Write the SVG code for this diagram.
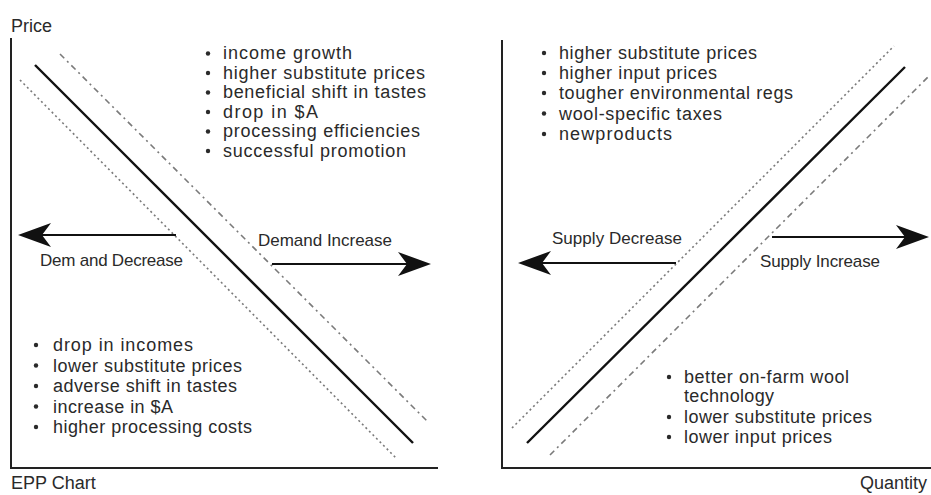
<svg xmlns="http://www.w3.org/2000/svg" width="931" height="495" viewBox="0 0 931 495">
  <style>
    text { font-family: "Liberation Sans", Arial, sans-serif; font-size: 18px; fill: #2a2a2a; }
    .label { font-size: 17px; }
    .axis { stroke: #222; stroke-width: 2; fill: none; }
    .curve { stroke: #111; stroke-width: 2.4; fill: none; }
    .dotted { stroke: #7a7a7a; stroke-width: 1.6; stroke-dasharray: 2 3; fill: none; }
    .dashdot { stroke: #7a7a7a; stroke-width: 1.6; stroke-dasharray: 6 4 2 4; fill: none; }
    .shift { stroke: #111; stroke-width: 2.2; fill: none; marker-end: url(#head); }
    .bullet { fill: #2a2a2a; }
  </style>
  <defs>
    <marker id="head" viewBox="-19 -13 35 26" refX="0" refY="0" markerWidth="35" markerHeight="26" markerUnits="userSpaceOnUse" orient="auto">
      <path d="M15,0 L-18,-12 L-9,0 L-18,12 Z" fill="#111"/>
    </marker>
  </defs>

  <!-- Demand panel -->
  <g id="demand-axes">
    <text x="11" y="32">Price</text>
    <path class="axis" d="M11,38 V468 H438"/>
    <text x="11" y="489" font-size="17">EPP Chart</text>
  </g>
  <g id="demand-curves">
    <line class="dotted" x1="20" y1="80" x2="396" y2="458"/>
    <line class="curve" x1="35" y1="65" x2="413" y2="443"/>
    <line class="dashdot" x1="60" y1="54" x2="428" y2="422"/>
  </g>
  <g id="demand-increase-factors">
    <circle class="bullet" cx="208" cy="53.5" r="2.2"/>
    <circle class="bullet" cx="208" cy="73" r="2.2"/>
    <circle class="bullet" cx="208" cy="92.5" r="2.2"/>
    <circle class="bullet" cx="208" cy="112" r="2.2"/>
    <circle class="bullet" cx="208" cy="131.5" r="2.2"/>
    <circle class="bullet" cx="208" cy="151" r="2.2"/>
    <text x="223" y="59" textLength="129" lengthAdjust="spacing">income growth</text>
    <text x="223" y="78.5" textLength="202" lengthAdjust="spacing">higher substitute prices</text>
    <text x="223" y="98" textLength="203" lengthAdjust="spacing">beneficial shift in tastes</text>
    <text x="223" y="117.5" textLength="95" lengthAdjust="spacing">drop in $A</text>
    <text x="223" y="137" textLength="197" lengthAdjust="spacing">processing efficiencies</text>
    <text x="223" y="156.5" textLength="183" lengthAdjust="spacing">successful promotion</text>
  </g>
  <g id="demand-decrease-factors">
    <circle class="bullet" cx="36" cy="345" r="2.2"/>
    <circle class="bullet" cx="36" cy="365.5" r="2.2"/>
    <circle class="bullet" cx="36" cy="386" r="2.2"/>
    <circle class="bullet" cx="36" cy="406.5" r="2.2"/>
    <circle class="bullet" cx="36" cy="427" r="2.2"/>
    <text x="53" y="351" textLength="140" lengthAdjust="spacing">drop in  incomes</text>
    <text x="53" y="371.5" textLength="189" lengthAdjust="spacing">lower substitute prices</text>
    <text x="53" y="392" textLength="184" lengthAdjust="spacing">adverse shift in tastes</text>
    <text x="53" y="412.5" textLength="120" lengthAdjust="spacing">increase in $A</text>
    <text x="53" y="433" textLength="199" lengthAdjust="spacing">higher processing costs</text>
  </g>
  <g id="demand-decrease">
    <text class="label" x="40" y="266" textLength="143" lengthAdjust="spacing">Dem and Decrease</text>
  </g>
  <g id="demand-increase">
    <text class="label" x="258" y="246" textLength="134" lengthAdjust="spacing">Demand Increase</text>
  </g>

  <!-- Supply panel -->
  <g id="supply-axes">
    <path class="axis" d="M502,40 V468 H931"/>
    <text x="927" y="489" text-anchor="end" font-size="17">Quantity</text>
  </g>
  <g id="supply-curves">
    <line class="dotted" x1="512" y1="428" x2="894" y2="46"/>
    <line class="curve" x1="527" y1="443" x2="905" y2="67"/>
    <line class="dashdot" x1="550" y1="455" x2="929" y2="76"/>
  </g>
  <g id="supply-decrease-factors">
    <circle class="bullet" cx="544" cy="53" r="2.2"/>
    <circle class="bullet" cx="544" cy="73" r="2.2"/>
    <circle class="bullet" cx="544" cy="93" r="2.2"/>
    <circle class="bullet" cx="544" cy="113.5" r="2.2"/>
    <circle class="bullet" cx="544" cy="134" r="2.2"/>
    <text x="559" y="59" textLength="198" lengthAdjust="spacing">higher substitute prices</text>
    <text x="559" y="79" textLength="158" lengthAdjust="spacing">higher input prices</text>
    <text x="559" y="99" textLength="234" lengthAdjust="spacing">tougher environmental regs</text>
    <text x="559" y="119.5" textLength="163" lengthAdjust="spacing">wool-specific taxes</text>
    <text x="559" y="140" textLength="113" lengthAdjust="spacing">newproducts</text>
  </g>
  <g id="supply-increase-factors">
    <circle class="bullet" cx="669" cy="377" r="2.2"/>
    <circle class="bullet" cx="669" cy="417" r="2.2"/>
    <circle class="bullet" cx="669" cy="437" r="2.2"/>
    <text x="684" y="383" textLength="165" lengthAdjust="spacing">better on-farm wool</text>
    <text x="684" y="402" textLength="90" lengthAdjust="spacing">technology</text>
    <text x="684" y="423" textLength="188" lengthAdjust="spacing">lower substitute prices</text>
    <text x="684" y="443" textLength="148" lengthAdjust="spacing">lower input prices</text>
  </g>
  <g id="supply-decrease">
    <text class="label" x="552" y="244" textLength="130" lengthAdjust="spacing">Supply Decrease</text>
  </g>
  <g id="supply-increase">
    <text class="label" x="760" y="267" textLength="120" lengthAdjust="spacing">Supply Increase</text>
  </g>

  <!-- Shift arrows -->
  <g id="connectors">
    <line class="shift" x1="176" y1="235" x2="33" y2="235"/>
    <line class="shift" x1="272" y1="264" x2="416" y2="264"/>
    <line class="shift" x1="676" y1="263" x2="533" y2="263"/>
    <line class="shift" x1="772" y1="237" x2="914" y2="237"/>
  </g>
</svg>
